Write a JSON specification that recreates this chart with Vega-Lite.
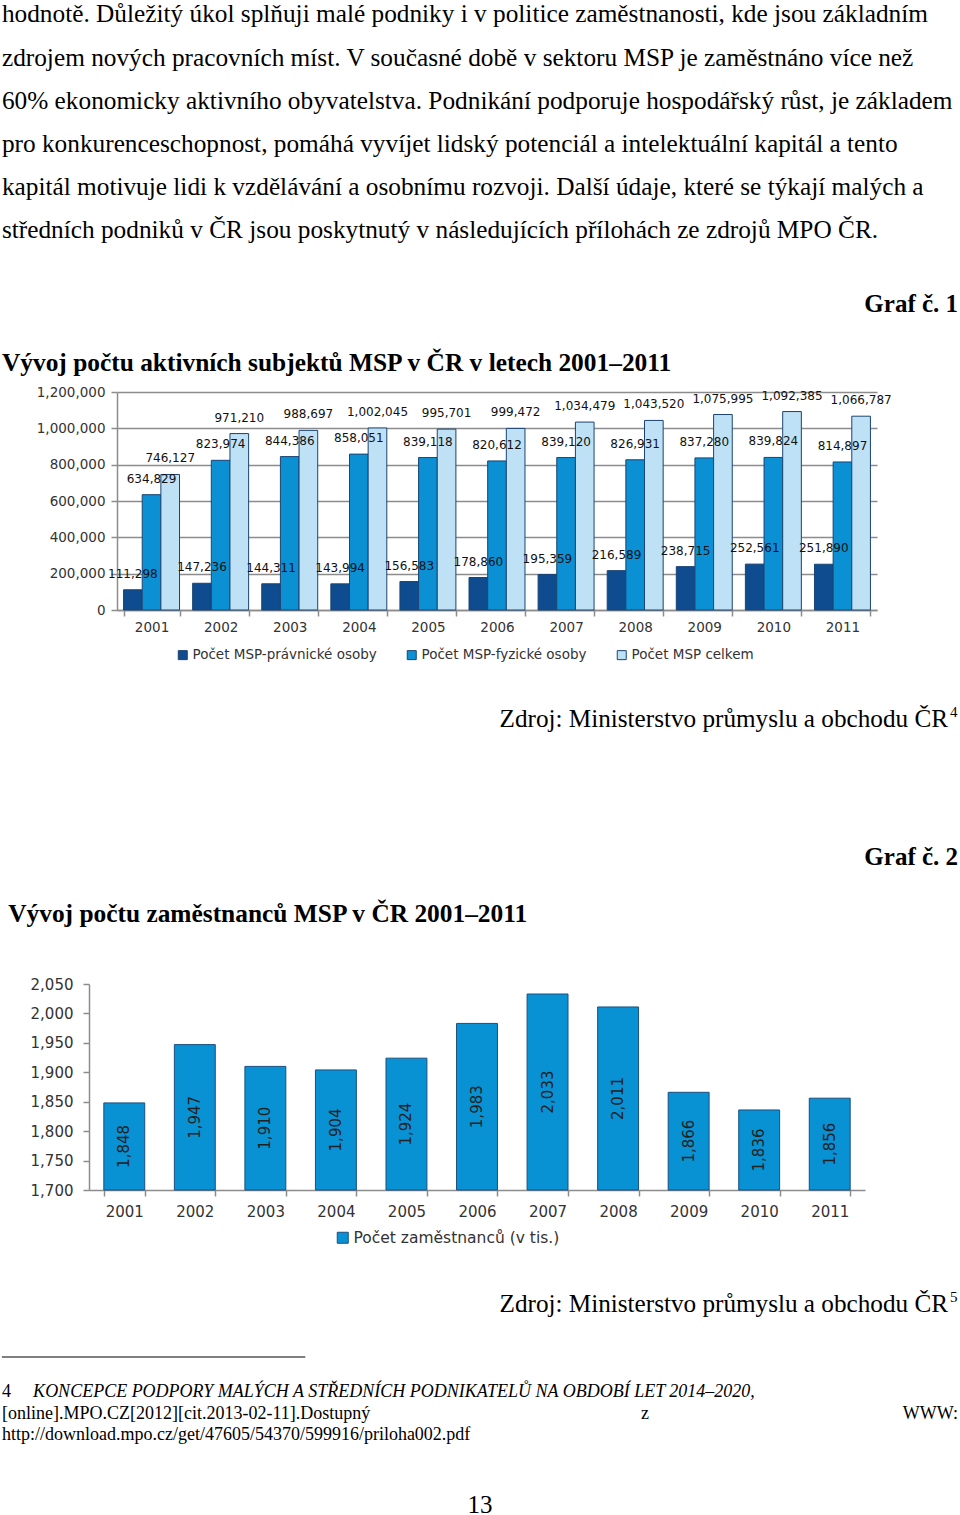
{
  "$schema": "https://vega.github.io/schema/vega-lite/v6.json",
  "padding": 0,
  "background": "white",
  "spacing": 0,
  "bounds": "flush",
  "resolve": {"scale": {"color": "independent"}, "legend": {"color": "independent"}},
  "config": {
    "view": {"stroke": null},
    "axis": {"labelFont": "DejaVu Sans"},
    "legend": {"labelFont": "DejaVu Sans", "labelLimit": 0}
  },
  "datasets": {
    "para": [
      {"line": 1, "text": "hodnotě. Důležitý úkol splňuji malé podniky i v politice zaměstnanosti, kde jsou základním"},
      {"line": 2, "text": "zdrojem nových pracovních míst. V současné době v sektoru MSP je zaměstnáno více než"},
      {"line": 3, "text": "60% ekonomicky aktivního obyvatelstva. Podnikání podporuje hospodářský růst, je základem"},
      {"line": 4, "text": "pro konkurenceschopnost, pomáhá vyvíjet lidský potenciál a intelektuální kapitál a tento"},
      {"line": 5, "text": "kapitál motivuje lidi k vzdělávání a osobnímu rozvoji. Další údaje, které se týkají malých a"},
      {"line": 6, "text": "středních podniků v ČR jsou poskytnutý v následujících přílohách ze zdrojů MPO ČR."}
    ],
    "msp": [
      {"year": "2001", "series": "Počet MSP-právnické osoby", "value": 111298},
      {"year": "2001", "series": "Počet MSP-fyzické osoby", "value": 634829},
      {"year": "2001", "series": "Počet MSP celkem", "value": 746127},
      {"year": "2002", "series": "Počet MSP-právnické osoby", "value": 147236},
      {"year": "2002", "series": "Počet MSP-fyzické osoby", "value": 823974},
      {"year": "2002", "series": "Počet MSP celkem", "value": 971210},
      {"year": "2003", "series": "Počet MSP-právnické osoby", "value": 144311},
      {"year": "2003", "series": "Počet MSP-fyzické osoby", "value": 844386},
      {"year": "2003", "series": "Počet MSP celkem", "value": 988697},
      {"year": "2004", "series": "Počet MSP-právnické osoby", "value": 143994},
      {"year": "2004", "series": "Počet MSP-fyzické osoby", "value": 858051},
      {"year": "2004", "series": "Počet MSP celkem", "value": 1002045},
      {"year": "2005", "series": "Počet MSP-právnické osoby", "value": 156583},
      {"year": "2005", "series": "Počet MSP-fyzické osoby", "value": 839118},
      {"year": "2005", "series": "Počet MSP celkem", "value": 995701},
      {"year": "2006", "series": "Počet MSP-právnické osoby", "value": 178860},
      {"year": "2006", "series": "Počet MSP-fyzické osoby", "value": 820612},
      {"year": "2006", "series": "Počet MSP celkem", "value": 999472},
      {"year": "2007", "series": "Počet MSP-právnické osoby", "value": 195359},
      {"year": "2007", "series": "Počet MSP-fyzické osoby", "value": 839120},
      {"year": "2007", "series": "Počet MSP celkem", "value": 1034479},
      {"year": "2008", "series": "Počet MSP-právnické osoby", "value": 216589},
      {"year": "2008", "series": "Počet MSP-fyzické osoby", "value": 826931},
      {"year": "2008", "series": "Počet MSP celkem", "value": 1043520},
      {"year": "2009", "series": "Počet MSP-právnické osoby", "value": 238715},
      {"year": "2009", "series": "Počet MSP-fyzické osoby", "value": 837280},
      {"year": "2009", "series": "Počet MSP celkem", "value": 1075995},
      {"year": "2010", "series": "Počet MSP-právnické osoby", "value": 252561},
      {"year": "2010", "series": "Počet MSP-fyzické osoby", "value": 839824},
      {"year": "2010", "series": "Počet MSP celkem", "value": 1092385},
      {"year": "2011", "series": "Počet MSP-právnické osoby", "value": 251890},
      {"year": "2011", "series": "Počet MSP-fyzické osoby", "value": 814897},
      {"year": "2011", "series": "Počet MSP celkem", "value": 1066787}
    ],
    "zam": [
      {"year": "2001", "series": "Počet zaměstnanců (v tis.)", "value": 1848},
      {"year": "2002", "series": "Počet zaměstnanců (v tis.)", "value": 1947},
      {"year": "2003", "series": "Počet zaměstnanců (v tis.)", "value": 1910},
      {"year": "2004", "series": "Počet zaměstnanců (v tis.)", "value": 1904},
      {"year": "2005", "series": "Počet zaměstnanců (v tis.)", "value": 1924},
      {"year": "2006", "series": "Počet zaměstnanců (v tis.)", "value": 1983},
      {"year": "2007", "series": "Počet zaměstnanců (v tis.)", "value": 2033},
      {"year": "2008", "series": "Počet zaměstnanců (v tis.)", "value": 2011},
      {"year": "2009", "series": "Počet zaměstnanců (v tis.)", "value": 1866},
      {"year": "2010", "series": "Počet zaměstnanců (v tis.)", "value": 1836},
      {"year": "2011", "series": "Počet zaměstnanců (v tis.)", "value": 1856}
    ]
  },
  "vconcat": [
    {
      "width": 960,
      "height": 392,
      "layer": [
        {
          "data": {"name": "para"},
          "mark": {"type": "text", "font": "Liberation Serif", "fontSize": 25.3, "align": "left", "baseline": "alphabetic", "color": "#000"},
          "encoding": {
            "x": {"datum": 0.002, "type": "quantitative", "scale": {"domain": [0, 1], "nice": false, "zero": false}, "axis": null},
            "y": {"field": "line", "type": "quantitative", "scale": {"domain": [0.478, 9.573], "nice": false, "zero": false, "reverse": true}, "axis": null},
            "text": {"field": "text"}
          }
        },
        {
          "data": {"values": [{"text": "Graf č. 1"}]},
          "mark": {"type": "text", "font": "Liberation Serif", "fontSize": 25, "fontWeight": "bold", "align": "right", "baseline": "alphabetic", "color": "#000"},
          "encoding": {
            "x": {"datum": 0.998, "type": "quantitative"},
            "y": {"datum": 7.717, "type": "quantitative"},
            "text": {"field": "text"}
          }
        },
        {
          "data": {"values": [{"text": "Vývoj počtu aktivních subjektů MSP v ČR v letech 2001–2011"}]},
          "mark": {"type": "text", "font": "Liberation Serif", "fontSize": 25.4, "fontWeight": "bold", "align": "left", "baseline": "alphabetic", "color": "#000"},
          "encoding": {
            "x": {"datum": 0.002, "type": "quantitative"},
            "y": {"datum": 9.086, "type": "quantitative"},
            "text": {"field": "text"}
          }
        }
      ]
    },
    {
      "width": 960,
      "height": 218,
      "data": {"name": "msp"},
      "encoding": {
        "x": {
          "field": "year", "type": "nominal",
          "scale": {"range": [117, 877], "paddingInner": 0.19, "paddingOuter": 0.095},
          "axis": {"title": null, "labelAngle": 0, "labelFontSize": 13.5, "labelColor": "#333", "labelPadding": 4,
                   "domainColor": "#8c8c8c", "domainWidth": 1.5, "tickColor": "#8c8c8c", "tickWidth": 1.5, "tickSize": 6, "tickBand": "extent"}
        },
        "xOffset": {"field": "series", "type": "nominal", "sort": ["Počet MSP-právnické osoby", "Počet MSP-fyzické osoby", "Počet MSP celkem"], "scale": {"paddingInner": 0, "paddingOuter": 0}},
        "y": {
          "field": "value", "type": "quantitative",
          "scale": {"domain": [0, 1200000], "nice": false},
          "axis": {"title": null, "offset": -117, "values": [0, 200000, 400000, 600000, 800000, 1000000, 1200000], "format": ",d",
                   "labelFontSize": 13.5, "labelColor": "#333", "labelPadding": 6,
                   "grid": true, "gridColor": "#8c8c8c", "gridWidth": 1.5,
                   "domainColor": "#8c8c8c", "domainWidth": 1.5, "tickColor": "#8c8c8c", "tickWidth": 1.5, "tickSize": 6}
        }
      },
      "layer": [
        {
          "mark": {"type": "bar", "stroke": "#1b4472", "strokeWidth": 1},
          "encoding": {
            "color": {
              "field": "series", "type": "nominal",
              "scale": {"domain": ["Počet MSP-právnické osoby", "Počet MSP-fyzické osoby", "Počet MSP celkem"], "range": ["#0e4c8f", "#0a90d3", "#bfe1f6"]},
              "legend": {"title": null, "orient": "none", "legendX": 176, "legendY": 256, "direction": "horizontal",
                         "symbolType": "square", "symbolSize": 81, "symbolStrokeColor": "#1b4472", "symbolStrokeWidth": 1,
                         "labelFontSize": 13.5, "labelColor": "#333", "labelOffset": 3, "columnPadding": 28, "padding": 0, "labelLimit": 0}
            }
          }
        },
        {
          "mark": {"type": "text", "font": "DejaVu Sans", "fontSize": 12, "color": "#111", "baseline": "alphabetic", "dy": -12},
          "encoding": {
            "text": {"field": "value", "type": "quantitative", "format": ",d"}
          }
        }
      ]
    },
    {
      "width": 960,
      "height": 374,
      "layer": [
        {
          "data": {"values": [{"text": "Zdroj: Ministerstvo průmyslu a obchodu ČR"}]},
          "mark": {"type": "text", "font": "Liberation Serif", "fontSize": 25.2, "align": "right", "baseline": "alphabetic", "color": "#000"},
          "encoding": {
            "x": {"datum": 0.9875, "type": "quantitative", "scale": {"domain": [0, 1], "nice": false, "zero": false}, "axis": null},
            "y": {"datum": 2.690, "type": "quantitative", "scale": {"domain": [0, 8.598], "nice": false, "zero": false, "reverse": true}, "axis": null},
            "text": {"field": "text"}
          }
        },
        {
          "data": {"values": [{"text": "4"}]},
          "mark": {"type": "text", "font": "Liberation Serif", "fontSize": 15, "align": "left", "baseline": "alphabetic", "color": "#000"},
          "encoding": {
            "x": {"datum": 0.9895, "type": "quantitative"},
            "y": {"datum": 2.460, "type": "quantitative"},
            "text": {"field": "text"}
          }
        },
        {
          "data": {"values": [{"text": "Graf č. 2"}]},
          "mark": {"type": "text", "font": "Liberation Serif", "fontSize": 25, "fontWeight": "bold", "align": "right", "baseline": "alphabetic", "color": "#000"},
          "encoding": {
            "x": {"datum": 0.998, "type": "quantitative"},
            "y": {"datum": 5.862, "type": "quantitative"},
            "text": {"field": "text"}
          }
        },
        {
          "data": {"values": [{"text": "Vývoj počtu zaměstnanců MSP v ČR 2001–2011"}]},
          "mark": {"type": "text", "font": "Liberation Serif", "fontSize": 25.4, "fontWeight": "bold", "align": "left", "baseline": "alphabetic", "color": "#000"},
          "encoding": {
            "x": {"datum": 0.0085, "type": "quantitative"},
            "y": {"datum": 7.172, "type": "quantitative"},
            "text": {"field": "text"}
          }
        }
      ]
    },
    {
      "width": 960,
      "height": 206,
      "data": {"name": "zam"},
      "encoding": {
        "x": {
          "field": "year", "type": "nominal",
          "scale": {"range": [89, 865], "paddingInner": 0.42, "paddingOuter": 0.21},
          "axis": {"title": null, "labelAngle": 0, "labelFontSize": 15, "labelColor": "#333", "labelPadding": 8,
                   "domainColor": "#8c8c8c", "domainWidth": 1.5, "tickColor": "#8c8c8c", "tickWidth": 1.5, "tickSize": 6, "tickBand": "extent"}
        }
      },
      "layer": [
        {
          "mark": {"type": "bar", "stroke": "#1b4f80", "strokeWidth": 1},
          "encoding": {
            "y": {
              "field": "value", "type": "quantitative",
              "scale": {"domain": [1700, 2050], "nice": false, "zero": false},
              "axis": {"title": null, "offset": -89, "values": [1700, 1750, 1800, 1850, 1900, 1950, 2000, 2050], "format": ",d",
                       "labelFontSize": 15, "labelColor": "#333", "labelPadding": 10, "grid": false,
                       "domainColor": "#8c8c8c", "domainWidth": 1.5, "tickColor": "#8c8c8c", "tickWidth": 1.5, "tickSize": 6}
            },
            "y2": {"datum": 1700},
            "color": {
              "field": "series", "type": "nominal",
              "scale": {"domain": ["Počet zaměstnanců (v tis.)"], "range": ["#0891d3"]},
              "legend": {"title": null, "orient": "none", "legendX": 335, "legendY": 246, "direction": "horizontal",
                         "symbolType": "square", "symbolSize": 121, "symbolStrokeColor": "#1b4f80", "symbolStrokeWidth": 1,
                         "labelFontSize": 15.5, "labelColor": "#333", "labelOffset": 3, "padding": 0, "labelLimit": 0}
            }
          }
        },
        {
          "mark": {"type": "text", "font": "DejaVu Sans", "fontSize": 15, "color": "#222", "angle": 270, "align": "center", "baseline": "middle"},
          "encoding": {
            "y": {"field": "value", "type": "quantitative", "scale": {"domain": [1700, 2400], "nice": false, "zero": false}, "axis": null},
            "text": {"field": "value", "type": "quantitative", "format": ",d"}
          }
        }
      ],
      "resolve": {"scale": {"y": "independent"}}
    },
    {
      "width": 960,
      "height": 325,
      "layer": [
        {
          "data": {"values": [{"text": "Zdroj: Ministerstvo průmyslu a obchodu ČR"}]},
          "mark": {"type": "text", "font": "Liberation Serif", "fontSize": 25.2, "align": "right", "baseline": "alphabetic", "color": "#000"},
          "encoding": {
            "x": {"datum": 0.9875, "type": "quantitative", "scale": {"domain": [0, 1], "nice": false, "zero": false}, "axis": null},
            "y": {"datum": 2.805, "type": "quantitative", "scale": {"domain": [0, 7.471], "nice": false, "zero": false, "reverse": true}, "axis": null},
            "text": {"field": "text"}
          }
        },
        {
          "data": {"values": [{"text": "5"}]},
          "mark": {"type": "text", "font": "Liberation Serif", "fontSize": 15, "align": "left", "baseline": "alphabetic", "color": "#000"},
          "encoding": {
            "x": {"datum": 0.9895, "type": "quantitative"},
            "y": {"datum": 2.575, "type": "quantitative"},
            "text": {"field": "text"}
          }
        },
        {
          "data": {"values": [{"from": 0.002, "to": 0.318, "at": 3.839}]},
          "mark": {"type": "rule", "color": "#000", "strokeWidth": 1},
          "encoding": {
            "x": {"field": "from", "type": "quantitative"},
            "x2": {"field": "to"},
            "y": {"field": "at", "type": "quantitative"}
          }
        },
        {
          "data": {"values": [{"text": "4"}]},
          "mark": {"type": "text", "font": "Liberation Serif", "fontSize": 18, "align": "left", "baseline": "alphabetic", "color": "#000"},
          "encoding": {
            "x": {"datum": 0.002, "type": "quantitative"},
            "y": {"datum": 4.759, "type": "quantitative"},
            "text": {"field": "text"}
          }
        },
        {
          "data": {"values": [{"text": "KONCEPCE PODPORY MALÝCH A STŘEDNÍCH PODNIKATELŮ NA OBDOBÍ LET 2014–2020,"}]},
          "mark": {"type": "text", "font": "Liberation Serif", "fontSize": 18, "fontStyle": "italic", "align": "left", "baseline": "alphabetic", "color": "#000"},
          "encoding": {
            "x": {"datum": 0.0345, "type": "quantitative"},
            "y": {"datum": 4.759, "type": "quantitative"},
            "text": {"field": "text"}
          }
        },
        {
          "data": {"values": [{"text": "[online].MPO.CZ[2012][cit.2013-02-11].Dostupný"}]},
          "mark": {"type": "text", "font": "Liberation Serif", "fontSize": 18, "align": "left", "baseline": "alphabetic", "color": "#000"},
          "encoding": {
            "x": {"datum": 0.002, "type": "quantitative"},
            "y": {"datum": 5.264, "type": "quantitative"},
            "text": {"field": "text"}
          }
        },
        {
          "data": {"values": [{"text": "z"}]},
          "mark": {"type": "text", "font": "Liberation Serif", "fontSize": 18, "align": "center", "baseline": "alphabetic", "color": "#000"},
          "encoding": {
            "x": {"datum": 0.672, "type": "quantitative"},
            "y": {"datum": 5.264, "type": "quantitative"},
            "text": {"field": "text"}
          }
        },
        {
          "data": {"values": [{"text": "WWW:"}]},
          "mark": {"type": "text", "font": "Liberation Serif", "fontSize": 18, "align": "right", "baseline": "alphabetic", "color": "#000"},
          "encoding": {
            "x": {"datum": 0.998, "type": "quantitative"},
            "y": {"datum": 5.264, "type": "quantitative"},
            "text": {"field": "text"}
          }
        },
        {
          "data": {"values": [{"text": "http://download.mpo.cz/get/47605/54370/599916/priloha002.pdf"}]},
          "mark": {"type": "text", "font": "Liberation Serif", "fontSize": 18, "align": "left", "baseline": "alphabetic", "color": "#000"},
          "encoding": {
            "x": {"datum": 0.002, "type": "quantitative"},
            "y": {"datum": 5.747, "type": "quantitative"},
            "text": {"field": "text"}
          }
        },
        {
          "data": {"values": [{"text": "13"}]},
          "mark": {"type": "text", "font": "Liberation Serif", "fontSize": 25, "align": "center", "baseline": "alphabetic", "color": "#000"},
          "encoding": {
            "x": {"datum": 0.5, "type": "quantitative"},
            "y": {"datum": 7.425, "type": "quantitative"},
            "text": {"field": "text"}
          }
        }
      ]
    }
  ]
}
